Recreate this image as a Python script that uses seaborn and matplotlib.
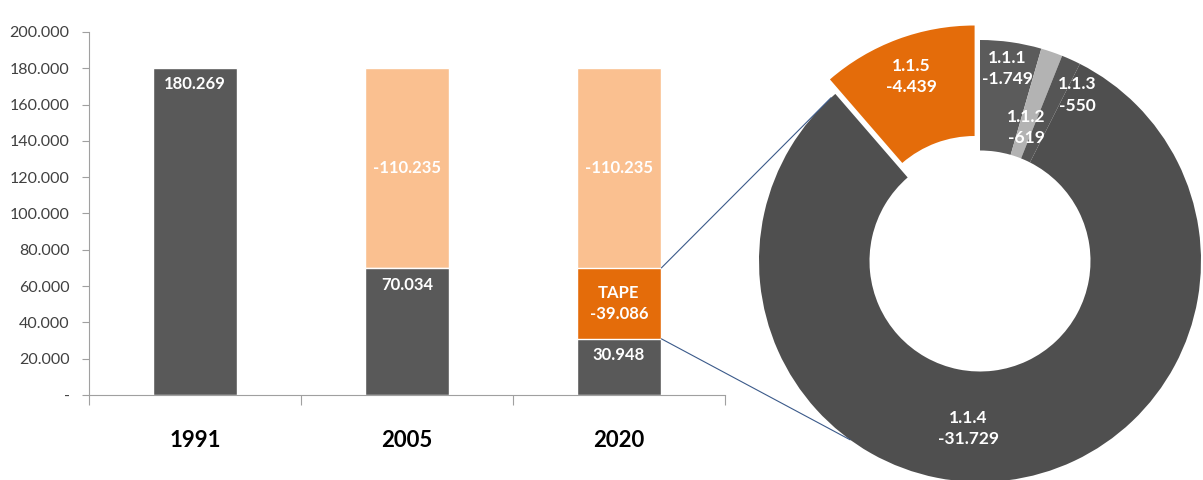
import numpy as np
import matplotlib
matplotlib.use('Agg')
import matplotlib.pyplot as plt
from matplotlib.patches import ConnectionPatch
import seaborn as sns

# bar data
years = ['1991', '2005', '2020']
base = [180269, 70034, 30948]      # dark gray part
tape = [0, 0, 39086]               # orange part (TAPE)
gap = [0, 110235, 110235]          # light orange part

# donut data (breakdown of TAPE)
donut_labels = ['1.1.1', '1.1.2', '1.1.3', '1.1.4', '1.1.5']
donut_values = [1749, 619, 550, 31729, 4439]

yticks = list(range(0, 200001, 20000))

DARK = '#595959'
ORANGE = '#e46c0a'
LIGHT = '#fac090'


def fmt(v):
    return f"{v:,}".replace(',', '.')


sns.set_style('white')
plt.rcParams['font.family'] = ['Lato', 'DejaVu Sans']

fig = plt.figure(figsize=(12.03, 4.8), dpi=100)

# ---- stacked bars ----
ax = fig.add_axes([89 / 1203, 85 / 480, 636 / 1203, 363 / 480])
tot_gap = [b + t + g for b, t, g in zip(base, tape, gap)]
tot_tape = [b + t for b, t in zip(base, tape)]
sns.barplot(x=years, y=tot_gap, color=LIGHT, width=0.4, saturation=1, errorbar=None, ax=ax)
sns.barplot(x=years, y=tot_tape, color=ORANGE, width=0.4, saturation=1, errorbar=None, ax=ax)
sns.barplot(x=years, y=base, color=DARK, width=0.4, saturation=1, errorbar=None, ax=ax)

ax.set_xlim(-0.5, 2.5)
ax.set_ylim(0, 200000)
ax.set_yticks(yticks)
ax.set_yticklabels(['-' if v == 0 else fmt(v) for v in yticks])
ax.tick_params(axis='y', left=True, length=5, width=0.8, color='#a0a0a0',
               labelsize=11.5, labelcolor='#404040', pad=9)
ax.set_xticks(range(len(years)))
ax.set_xticklabels(years, fontsize=16, fontweight='bold', color='black')
ax.tick_params(axis='x', length=0, pad=25)
ax.set_xticks([-0.5, 0.5, 1.5, 2.5], minor=True)
ax.tick_params(axis='x', which='minor', bottom=True, length=7, width=0.8, color='#a0a0a0')
ax.set_xlabel('')
ax.set_ylabel('')
for s in ['top', 'right']:
    ax.spines[s].set_visible(False)
for s in ['left', 'bottom']:
    ax.spines[s].set_color('#a0a0a0')
    ax.spines[s].set_linewidth(0.8)

lab_kw = dict(color='white', fontsize=12, fontweight='bold', ha='center', va='center')
for i in range(len(years)):
    ax.annotate(fmt(base[i]), (i, base[i]), xytext=(0, -12), textcoords='offset points', **lab_kw)
    if tape[i]:
        ax.text(i, base[i] + tape[i] / 2, f"TAPE\n-{fmt(tape[i])}", linespacing=1.4, **lab_kw)
    if gap[i]:
        ax.text(i, base[i] + tape[i] + gap[i] / 2, f"-{fmt(gap[i])}", **lab_kw)

# ---- donut ----
ax2 = fig.add_axes([733 / 1203, 0, 470 / 1203, 470 / 480])
ax2.set_facecolor('#faf8f5')
colors = ['#5b5b5b', '#b3b3b3', '#555555', '#4f4f4f', ORANGE]
explode = [0, 0, 0, 0, 0.07]
wedges, _ = ax2.pie(donut_values, colors=colors, startangle=90, counterclock=False,
                    explode=explode, radius=1,
                    wedgeprops=dict(width=0.5, linewidth=0))
ax2.set_aspect('auto')
ax2.set_xlim(-247 / 221, 223 / 221)
ax2.set_ylim(-219 / 221, 251 / 221)
for s in ax2.spines.values():
    s.set_visible(False)

lab_r = [0.88, 0.64, 0.87, 0.76, 0.82]
lab_da = [0, 0, -6, -11, 0]
for w, lab, v, r, da in zip(wedges, donut_labels, donut_values, lab_r, lab_da):
    ang = np.deg2rad((w.theta1 + w.theta2) / 2 + da)
    cx, cy = w.center
    ax2.text(cx + r * np.cos(ang), cy + r * np.sin(ang), f"{lab}\n-{fmt(v)}",
             color='white', fontsize=12.5, fontweight='bold', ha='center', va='center',
             linespacing=1.4)

# ---- connector lines ----
a_end = np.deg2rad(wedges[3].theta1 + 1.5)
for y0, ang in [(base[2] + tape[2], a_end), (base[2], np.deg2rad(234))]:
    con = ConnectionPatch(xyA=(2.2, y0), coordsA=ax.transData,
                          xyB=(np.cos(ang), np.sin(ang)), coordsB=ax2.transData,
                          color='#3b5a8a', linewidth=0.8)
    fig.add_artist(con)

fig.savefig('out.png', dpi=100, facecolor='white')
